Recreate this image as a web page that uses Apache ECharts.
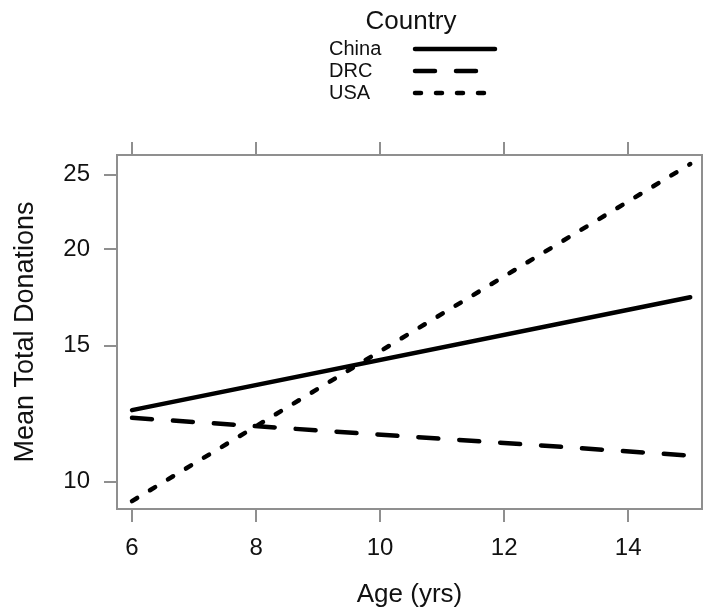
<!DOCTYPE html>
<html>
<head>
<meta charset="utf-8">
<script src="https://cdn.jsdelivr.net/npm/echarts@6/dist/echarts.min.js"></script>
<style>
  html, body { margin: 0; padding: 0; background: #fff; }
  #chart { width: 703px; height: 611px; }
</style>
</head>
<body>
<div id="chart"></div>
<script>
// Fitted mean total donations by age, one line per country (log-scaled y)
const countries = ['China', 'DRC', 'USA'];
const ages = [6, 15];
const chinaDonations = [12.38, 17.33];
const drcDonations = [12.10, 10.81];
const usaDonations = [9.44, 25.78];

const xTicks = [6, 8, 10, 12, 14];
const yTicks = [10, 15, 20, 25];

const FONT = '"Liberation Sans", Arial, Helvetica, sans-serif';
const FRAME = '#8f8f8f';
const INK = '#111';

const lineTypes = {
  China: 'solid',
  DRC: [20, 21],
  USA: [6, 15]
};
const valuesByCountry = {
  China: chinaDonations,
  DRC: drcDonations,
  USA: usaDonations
};

function pairs(xs, ys) {
  return xs.map((x, i) => [x, ys[i]]);
}

const tickStyle = { show: true, inside: false, length: 13, lineStyle: { color: FRAME, width: 2 } };

const chart = echarts.init(document.getElementById('chart'), null, { renderer: 'canvas' });

chart.setOption({
  animation: false,
  backgroundColor: '#fff',
  title: {
    text: 'Country',
    left: 411,
    top: 9,
    textAlign: 'center',
    padding: 0,
    textStyle: { fontFamily: FONT, fontSize: 26, fontWeight: 'normal', color: INK, lineHeight: 26 }
  },
  legend: {
    orient: 'vertical',
    left: 329,
    top: 39,
    align: 'right',
    padding: 0,
    itemWidth: 80,
    itemHeight: 20,
    itemGap: 2,
    data: countries,
    formatter: name => '{n|' + name + '}',
    // line keys only: hide the marker dot that line series add to their key
    itemStyle: { color: 'rgba(0,0,0,0)', borderWidth: 0 },
    lineStyle: { width: 4.5, color: '#000', cap: 'round' },
    textStyle: {
      fontFamily: FONT,
      fontSize: 20,
      color: INK,
      rich: { n: { width: 81, align: 'left', fontFamily: FONT, fontSize: 20, lineHeight: 20, color: INK } }
    }
  },
  grid: {
    left: 117,
    right: 1,
    top: 155,
    bottom: 102,
    outerBoundsMode: 'none',
    containLabel: false,
    show: true,
    borderColor: FRAME,
    borderWidth: 2,
    backgroundColor: 'transparent'
  },
  xAxis: [
    {
      type: 'value',
      position: 'bottom',
      min: 5.758,
      max: 15.19,
      name: 'Age (yrs)',
      nameLocation: 'middle',
      nameGap: 73,
      nameTextStyle: { fontFamily: FONT, fontSize: 26, color: INK },
      axisLine: { show: false },
      splitLine: { show: false },
      axisTick: Object.assign({ customValues: xTicks }, tickStyle),
      axisLabel: { customValues: xTicks, margin: 27, fontFamily: FONT, fontSize: 24, color: INK }
    },
    {
      type: 'value',
      position: 'top',
      min: 5.758,
      max: 15.19,
      axisLine: { show: false },
      splitLine: { show: false },
      axisTick: Object.assign({ customValues: xTicks }, tickStyle),
      axisLabel: { show: false }
    }
  ],
  yAxis: {
    type: 'log',
    logBase: 10,
    min: 9.22,
    max: 26.48,
    name: 'Mean Total Donations',
    nameLocation: 'middle',
    nameGap: 78,
    nameTextStyle: { fontFamily: FONT, fontSize: 27, color: INK },
    axisLine: { show: false },
    splitLine: { show: false },
    minorTick: { show: false },
    axisTick: Object.assign({ customValues: yTicks }, tickStyle),
    axisLabel: { customValues: yTicks, margin: 27, fontFamily: FONT, fontSize: 24, color: INK }
  },
  series: countries.map(name => ({
    name: name,
    type: 'line',
    xAxisIndex: 0,
    yAxisIndex: 0,
    data: pairs(ages, valuesByCountry[name]),
    symbol: 'none',
    showSymbol: false,
    silent: true,
    itemStyle: { color: '#000' },
    lineStyle: { color: '#000', width: 4.5, type: lineTypes[name], cap: 'round' }
  }))
});
</script>
</body>
</html>
